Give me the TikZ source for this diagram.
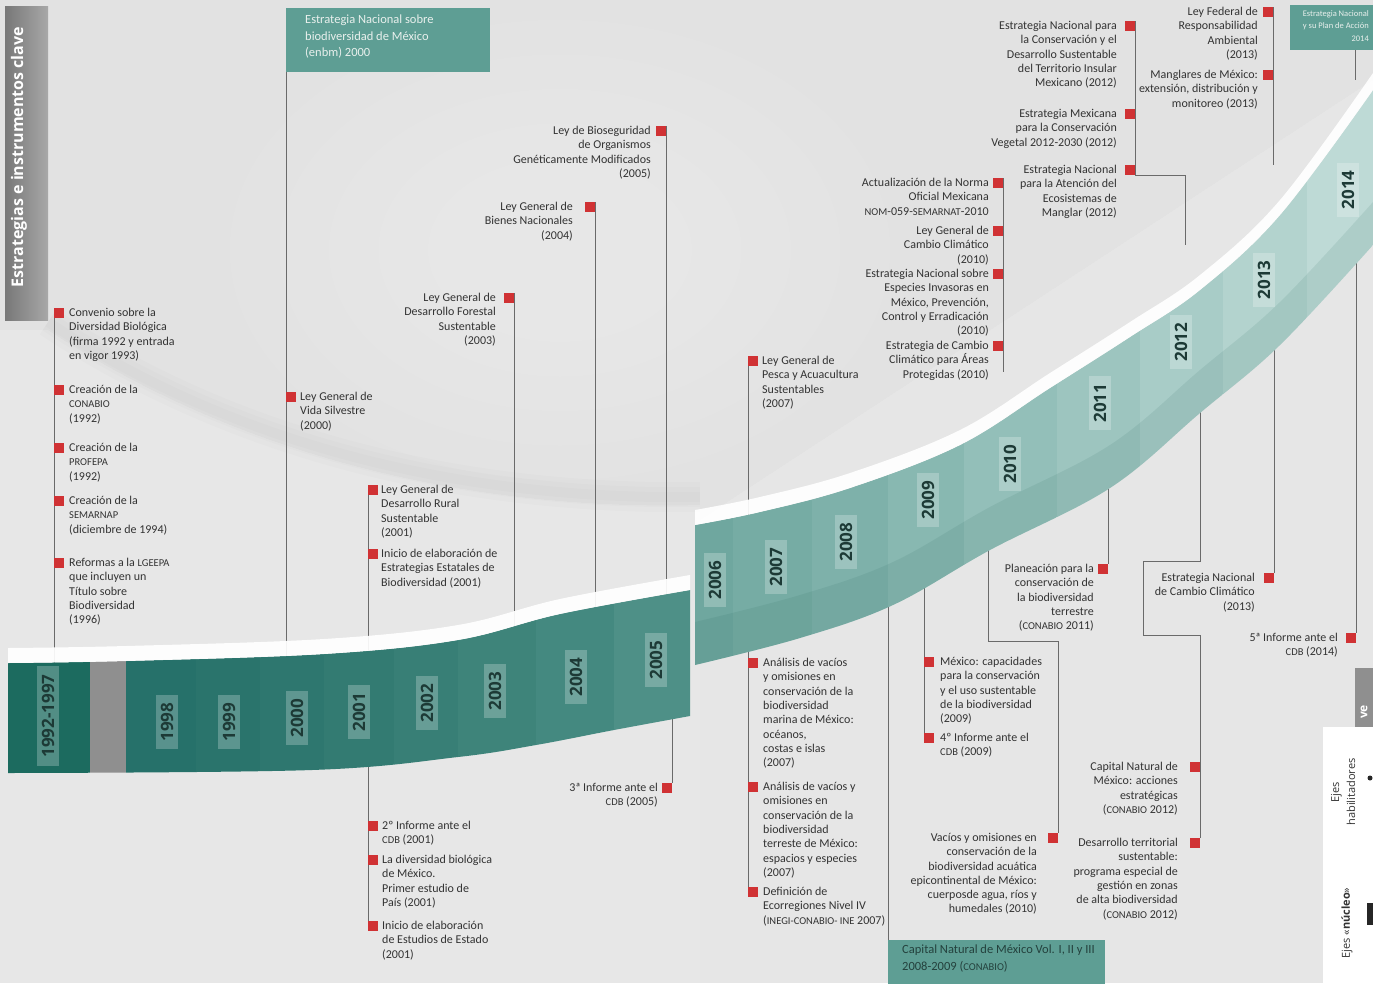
\documentclass[tikz,border=0pt]{standalone}
\usepackage{fontspec}
\setmainfont{Carlito}
\newfontfamily\yearfont{Open Sans}
\newfontfamily\sidefont{Open Sans}
\usetikzlibrary{calc}
\pgfdeclarelayer{back}
\pgfdeclarelayer{lines}
\pgfsetlayers{back,lines,main}
\definecolor{bgA}{HTML}{E2E2E2}
\definecolor{txt}{HTML}{333333}
\definecolor{redsq}{HTML}{D03234}
\definecolor{conn}{HTML}{6A6A6A}
\definecolor{boxteal}{HTML}{5E9E94}
\definecolor{boxtxt}{HTML}{E9F0ED}
\definecolor{boxdark}{HTML}{24413D}
\definecolor{sideL}{HTML}{787878}
\definecolor{sideR}{HTML}{A8A8A8}
\definecolor{ylab}{HTML}{1D3A36}
\definecolor{tealdark}{HTML}{1F5E55}
\definecolor{lc1}{HTML}{1C6B5F}
\definecolor{lcg}{HTML}{8F8F8F}
\definecolor{lc2}{HTML}{26716A}
\definecolor{lc3}{HTML}{2A746C}
\definecolor{lc4}{HTML}{2E776F}
\definecolor{lc5}{HTML}{337B72}
\definecolor{lc6}{HTML}{387F76}
\definecolor{lc7}{HTML}{3E847A}
\definecolor{lc8}{HTML}{448980}
\definecolor{lc9}{HTML}{4E9087}
\definecolor{uc1}{HTML}{6FA79F}
\definecolor{uc2}{HTML}{76ACA4}
\definecolor{uc3}{HTML}{7EB1AA}
\definecolor{uc4}{HTML}{88B8B1}
\definecolor{uc5}{HTML}{93BFB9}
\definecolor{uc6}{HTML}{9DC5BF}
\definecolor{uc7}{HTML}{A8CCC7}
\definecolor{uc8}{HTML}{B3D3CE}
\definecolor{uc9}{HTML}{BEDAD6}
\newcommand\ab[1]{{\fontsize{10.5}{10}\selectfont #1}}
\tikzset{
  itxt/.style={inner sep=0pt, font=\fontsize{12}{14.3}\selectfont, text=txt},
  itL/.style={itxt, anchor=north west, align=left},
  itR/.style={itxt, anchor=north east, align=right},
  sqL/.style={fill=redsq, minimum size=10pt, inner sep=0pt, anchor=north west},
  sqR/.style={fill=redsq, minimum size=10pt, inner sep=0pt, anchor=north east},
  cline/.style={draw=conn, line width=0.9pt},
  yr/.style={rotate=90, font=\yearfont\bfseries\fontsize{17}{17}\selectfont, text=ylab,
     fill=white, fill opacity=0.24, text opacity=1, inner xsep=8pt, inner ysep=5pt},
}
\def\lowband{plot[smooth,tension=0.6] coordinates {(8,663) (126,661) (324,654) (458,640) (560,614) (690,590)} -- plot[smooth,tension=0.6] coordinates {(690,716) (614,730) (536,745) (458,757) (312,770) (8,773)} -- cycle}
\def\upband{plot[smooth,tension=0.6] coordinates {(695,525) (760,512) (850,488) (960,445) (1050,388) (1130,337) (1200,290) (1280,215) (1373,90)} -- plot[smooth,tension=0.6] coordinates {(1373,245) (1280,345) (1200,413) (1110,488) (990,550) (893,605) (800,638) (695,665)} -- cycle}
\begin{document}
\begin{tikzpicture}[x=1pt,y=-1pt]
\useasboundingbox (0,0) rectangle (1373,983);
\begin{pgfonlayer}{back}
  \fill[bgA] (0,0) rectangle (1373,983);
  \foreach \r in {1,0.85,0.7,0.55,0.4}{
    \fill[white, opacity=0.06] (560,250) ellipse ({330*\r} and {230*\r});
  }
  \foreach \r in {1,0.8,0.6}{
    \fill[white, opacity=0.08] (48,330) .. controls (260,470) and (500,510) .. (700,505) -- (700,983) -- (0,983) -- (0,330) -- cycle;
  }
  \foreach \r in {1,0.8,0.6}{
    \fill[white, opacity=0.07] (700,520) -- (1373,80) -- (1373,983) -- (700,983) -- cycle;
  }
  \foreach \w in {30,20,10}{
    \draw[black, opacity=0.012, line width=\w pt] (48,322) .. controls (260,462) and (500,500) .. (700,497);
  }
\end{pgfonlayer}

% ---- lower band
\begin{scope}
  \clip \lowband;
  \fill[lc1] (0,550) rectangle (90,800);
  \fill[lcg] (90,550) rectangle (126,800);
  \fill[lc2] (126,550) rectangle (196,800);
  \fill[lc3] (196,550) rectangle (260,800);
  \fill[lc4] (260,550) rectangle (324,800);
  \fill[lc5] (324,550) rectangle (394,800);
  \fill[lc6] (394,550) rectangle (458,800);
  \fill[lc7] (458,550) rectangle (536,800);
  \fill[lc8] (536,550) rectangle (614,800);
  \fill[lc9] (614,550) rectangle (700,800);
\end{scope}
\fill[white, opacity=0.92] plot[smooth,tension=0.6] coordinates {(8,648) (126,646) (324,639) (458,625) (560,599) (690,575)} -- plot[smooth,tension=0.6] coordinates {(690,590) (560,614) (458,640) (324,654) (126,661) (8,663)} -- cycle;

% ---- upper band
\begin{scope}
  \clip \upband;
  \fill[uc1] (690,0) rectangle (733,700);
  \fill[uc2] (733,0) rectangle (812,700);
  \fill[uc3] (812,0) rectangle (888,700);
  \fill[uc4] (888,0) rectangle (964,700);
  \fill[uc5] (964,0) rectangle (1057,700);
  \fill[uc6] (1057,0) rectangle (1140,700);
  \fill[uc7] (1140,0) rectangle (1223,700);
  \fill[uc8] (1223,0) rectangle (1307,700);
  \fill[uc9] (1307,0) rectangle (1380,700);
  \fill[tealdark, opacity=0.10] plot[smooth,tension=0.6] coordinates {(695,622) (800,595) (893,562) (990,507) (1110,445) (1200,370) (1280,302) (1373,202)} -- (1380,400) -- (690,720) -- cycle;
\end{scope}
\fill[white, opacity=0.92] plot[smooth,tension=0.6] coordinates {(695,510) (760,497) (850,473) (960,430) (1050,373) (1130,322) (1200,275) (1280,200) (1373,73)} -- plot[smooth,tension=0.6] coordinates {(1373,90) (1280,215) (1200,290) (1130,337) (1050,388) (960,445) (850,488) (760,512) (695,525)} -- cycle;

% ---- year labels
\node[yr] (yr92) at (48,716) {1992-1997};
\node[yr] (yr98) at (167,722) {1998};
\node[yr] (yr99) at (229,722) {1999};
\node[yr] (yr00) at (297,718) {2000};
\node[yr] (yr01) at (359,712) {2001};
\node[yr] (yr02) at (427,703) {2002};
\node[yr] (yr03) at (495,691) {2003};
\node[yr] (yr04) at (576,677) {2004};
\node[yr] (yr05) at (656,660) {2005};
\node[yr] (yr06) at (715,580) {2006};
\node[yr] (yr07) at (776,567) {2007};
\node[yr] (yr08) at (846,542) {2008};
\node[yr] (yr09) at (928,500) {2009};
\node[yr] (yr10) at (1010,464) {2010};
\node[yr] (yr11) at (1100,403) {2011};
\node[yr] (yr12) at (1181,342) {2012};
\node[yr] (yr13) at (1264,280) {2013};
\node[yr] (yr14) at (1348,190) {2014};

% ---- sidebar
\node[anchor=north west, minimum width=43pt, minimum height=314pt, inner sep=0pt, left color=sideL, right color=sideR] (side) at (5,6) {};
\node[rotate=90, text=white, inner sep=0pt, font=\sidefont\bfseries\fontsize{16}{16}\selectfont] (sidet) at (19,157) {Estrategias e instrumentos clave};

% ---- boxes
\node[fill=boxteal, anchor=north west, minimum width=204pt, minimum height=64pt, inner sep=0pt] (enbm) at (286,8) {};
\node[itL, text=boxtxt, font=\fontsize{12.5}{16.5}\selectfont] (enbmt) at (305,15) {Estrategia Nacional sobre\\biodiversidad de México\\(enbm) 2000};
\node[fill=boxteal, anchor=north west, minimum width=83pt, minimum height=45pt, inner sep=0pt] (trbox) at (1290,5) {};
\node[itR, text=boxtxt, font=\fontsize{8.5}{12.5}\selectfont] (trt) at (1369,10) {Estrategia Nacional\\y su Plan de Acción\\2014};
\node[fill=boxteal, anchor=north west, minimum width=217pt, minimum height=45pt, inner sep=0pt] (capbox) at (888,940) {};
\node[itL, text=boxdark, font=\fontsize{12.5}{17}\selectfont] (capt) at (902,945) {Capital Natural de México Vol. I, II y III\\2008-2009 (\ab{CONABIO})};

% ---- items, upper left
\node[sqL] (c1s) at (54,308) {};
\node[itL] (c1) at (69,308) {Convenio sobre la\\Diversidad Biológica\\(firma 1992 y entrada\\en vigor 1993)};
\node[sqL] (c2s) at (54,385) {};
\node[itL] (c2) at (69,385) {Creación de la\\\ab{CONABIO}\\(1992)};
\node[sqL] (c3s) at (54,443) {};
\node[itL] (c3) at (69,443) {Creación de la\\\ab{PROFEPA}\\(1992)};
\node[sqL] (c4s) at (54,496) {};
\node[itL] (c4) at (69,496) {Creación de la\\\ab{SEMARNAP}\\(diciembre de 1994)};
\node[sqL] (c5s) at (54,558) {};
\node[itL] (c5) at (69,558) {Reformas a la \ab{LGEEPA}\\que incluyen un\\Título sobre\\Biodiversidad\\(1996)};
\node[sqL] (v1s) at (286,392) {};
\node[itL] (v1) at (300,392) {Ley General de\\Vida Silvestre\\(2000)};
\node[sqL] (r1s) at (368,485) {};
\node[itL] (r1) at (381,485) {Ley General de\\Desarrollo Rural\\Sustentable\\(2001)};
\node[sqL] (r2s) at (368,549) {};
\node[itL] (r2) at (381,549) {Inicio de elaboración de\\Estrategias Estatales de\\Biodiversidad (2001)};
\node[sqR] (f1s) at (514,293) {};
\node[itR] (f1) at (496,293) {Ley General de\\Desarrollo Forestal\\Sustentable\\(2003)};
\node[sqR] (b1s) at (595,202) {};
\node[itR] (b1) at (573,202) {Ley General de\\Bienes Nacionales\\(2004)};
\node[sqR] (g1s) at (666,126) {};
\node[itR] (g1) at (651,126) {Ley de Bioseguridad\\de Organismos\\Genéticamente Modificados\\(2005)};

% ---- items, lower left
\node[sqL] (d1s) at (368,821) {};
\node[itL] (d1) at (382,821) {2º Informe ante el\\\ab{CDB} (2001)};
\node[sqL] (d2s) at (368,855) {};
\node[itL] (d2) at (382,855) {La diversidad biológica\\de México.\\Primer estudio de\\País (2001)};
\node[sqL] (d3s) at (368,921) {};
\node[itL] (d3) at (382,921) {Inicio de elaboración\\de Estudios de Estado\\(2001)};
\node[sqR] (e1s) at (672,783) {};
\node[itR] (e1) at (658,783) {3ª Informe ante el\\\ab{CDB} (2005)};

% ---- items, upper right
\node[sqL] (p1s) at (748,356) {};
\node[itL] (p1) at (762,356) {Ley General de\\Pesca y Acuacultura\\Sustentables\\(2007)};
\node[sqR] (n1s) at (1003,178) {};
\node[itR] (n1) at (989,178) {Actualización de la Norma\\Oficial Mexicana\\\ab{NOM}-059-\ab{SEMARNAT}-2010};
\node[sqR] (n2s) at (1003,226) {};
\node[itR] (n2) at (989,226) {Ley General de\\Cambio Climático\\(2010)};
\node[sqR] (n3s) at (1003,269) {};
\node[itR] (n3) at (989,269) {Estrategia Nacional sobre\\Especies Invasoras en\\México, Prevención,\\Control y Erradicación\\(2010)};
\node[sqR] (n4s) at (1003,341) {};
\node[itR] (n4) at (989,341) {Estrategia de Cambio\\Climático para Áreas\\Protegidas (2010)};
\node[sqR] (s1s) at (1135,21) {};
\node[itR] (s1) at (1117,21) {Estrategia Nacional para\\la Conservación y el\\Desarrollo Sustentable\\del Territorio Insular\\Mexicano (2012)};
\node[sqR] (s2s) at (1135,109) {};
\node[itR] (s2) at (1117,109) {Estrategia Mexicana\\para la Conservación\\Vegetal 2012-2030 (2012)};
\node[sqR] (s3s) at (1135,165) {};
\node[itR] (s3) at (1117,165) {Estrategia Nacional\\para la Atención del\\Ecosistemas de\\Manglar (2012)};
\node[sqR] (t1s) at (1273,7) {};
\node[itR] (t1) at (1258,7) {Ley Federal de\\Responsabilidad\\Ambiental\\(2013)};
\node[sqR] (t2s) at (1273,70) {};
\node[itR] (t2) at (1258,70) {Manglares de México:\\extensión, distribución y\\monitoreo (2013)};

% ---- items, lower right
\node[sqL] (a1s) at (748,658) {};
\node[itL] (a1) at (763,658) {Análisis de vacíos\\y omisiones en\\conservación de la\\biodiversidad\\marina de México:\\océanos,\\costas e islas\\(2007)};
\node[sqL] (a2s) at (748,782) {};
\node[itL] (a2) at (763,782) {Análisis de vacíos y\\omisiones en\\conservación de la\\biodiversidad\\terreste de México:\\espacios y especies\\(2007)};
\node[sqL] (a3s) at (748,887) {};
\node[itL] (a3) at (763,887) {Definición de\\Ecorregiones Nivel IV\\(\ab{INEGI-CONABIO- INE} 2007)};
\node[sqL] (k1s) at (924,657) {};
\node[itL] (k1) at (940,657) {México: capacidades\\para la conservación\\y el uso sustentable\\de la biodiversidad\\(2009)};
\node[sqL] (k2s) at (924,733) {};
\node[itL] (k2) at (940,733) {4º Informe ante el\\\ab{CDB} (2009)};
\node[sqR] (l1s) at (1058,833) {};
\node[itR] (l1) at (1037,833) {Vacíos y omisiones en\\conservación de la\\biodiversidad acuática\\epicontinental de México:\\cuerposde agua, ríos y\\humedales (2010)};
\node[sqR] (m1s) at (1108,564) {};
\node[itR] (m1) at (1094,564) {Planeación para la\\conservación de\\la biodiversidad\\terrestre\\(\ab{CONABIO} 2011)};
\node[sqR] (q1s) at (1200,762) {};
\node[itR] (q1) at (1178,762) {Capital Natural de\\México: acciones\\estratégicas\\(\ab{CONABIO} 2012)};
\node[sqR] (q2s) at (1200,838) {};
\node[itR] (q2) at (1178,838) {Desarrollo territorial\\sustentable:\\programa especial de\\gestión en zonas\\de alta biodiversidad\\(\ab{CONABIO} 2012)};
\node[sqR] (o1s) at (1274,573) {};
\node[itR] (o1) at (1255,573) {Estrategia Nacional\\de Cambio Climático\\(2013)};
\node[sqR] (u1s) at (1356,633) {};
\node[itR] (u1) at (1338,633) {5ª Informe ante el\\\ab{CDB} (2014)};

% ---- bottom-right inset
\node[fill=lcg, anchor=north west, minimum width=18pt, minimum height=59pt, inner sep=0pt] (gtab) at (1355,668) {};
\node[rotate=90, text=white, inner sep=0pt, font=\sidefont\bfseries\fontsize{12}{12}\selectfont] (gtabt) at (1364,712) {ve};
\node[fill=white, anchor=north west, minimum width=50pt, minimum height=256pt, inner sep=0pt] (inset) at (1323,727) {};
\node[rotate=90, inner sep=0pt, text=txt, font=\sidefont\fontsize{11}{15}\selectfont] (ejn) at (1347,923) {Ejes «\textbf{núcleo}»};
\node[rotate=90, inner sep=0pt, text=txt, align=center, font=\sidefont\fontsize{11}{16}\selectfont] (ejh) at (1343,792) {Ejes\\habilitadores};
\fill[black!85] (1370,778) circle (2.5);
\fill[black!85] (1367,903) rectangle (1373,925);

% ---- connectors
\coordinate (cEnd) at (54,665);
\coordinate (vEnd) at (286,662);
\coordinate (rEnd) at (368,660);
\coordinate (fEnd) at (514,648);
\coordinate (bEnd) at (595,635);
\coordinate (gEnd) at (666,615);
\coordinate (dStart) at (368,760);
\coordinate (eStart) at (672,712);
\coordinate (pEnd) at (748,515);
\coordinate (nEnd) at (1003,372);
\coordinate (sEnd) at (1185,245);
\coordinate (tEnd) at (1273,165);
\coordinate (trEnd) at (1355,80);
\coordinate (aStart) at (748,640);
\coordinate (hStart) at (888,600);
\coordinate (kStart) at (924,575);
\coordinate (lStart) at (988,540);
\coordinate (mStart) at (1108,480);
\coordinate (qStart) at (1200,410);
\coordinate (oStart) at (1274,330);
\coordinate (uStart) at (1356,250);
\begin{pgfonlayer}{lines}
  \draw[cline] (c1s.north west) -- (cEnd);
  \draw[cline] (enbm.south west) -- (vEnd);
  \draw[cline] (r1s.north west) -- (rEnd);
  \draw[cline] (f1s.north east) -- (fEnd);
  \draw[cline] (b1s.north east) -- (bEnd);
  \draw[cline] (g1s.north east) -- (gEnd);
  \draw[cline] (dStart) -- (d3s.west);
  \draw[cline] (eStart) -- (e1s.north east);
  \draw[cline] (p1s.north west) -- (pEnd);
  \draw[cline] (n1s.north east) -- (nEnd);
  \draw[cline] (s1s.north east) -- (s3s.south east) -- ++(50,0) -- (sEnd);
  \draw[cline] (t1s.north east) -- (tEnd);
  \draw[cline] (trbox.south east -| trEnd) -- (trEnd);
  \draw[cline] (aStart) -- (a3s.west);
  \draw[cline] (hStart) -- (capbox.north west);
  \draw[cline] (kStart) -- (k2s.west);
  \draw[cline] (lStart) -- ++(0,101) -| (l1s.north east);
  \draw[cline] (mStart) -- (m1s.north east);
  \draw[cline] (qStart) -- ++(0,151) -- ++(-57,0) -- ++(0,74) -- ++(57,0) -- (q2s.north east);
  \draw[cline] (oStart) -- (o1s.north east);
  \draw[cline] (uStart) -- (u1s.north east);
\end{pgfonlayer}
\end{tikzpicture}
\end{document}
